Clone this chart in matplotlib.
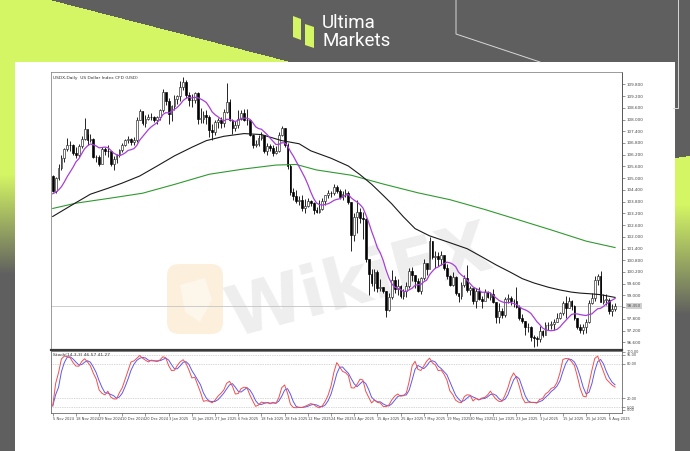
import numpy as np
import pandas as pd
import matplotlib
matplotlib.use("Agg")
import matplotlib.pyplot as plt
from matplotlib.patches import Rectangle, Polygon, FancyBboxPatch

# ---------------- data ----------------
title_text = "USDX,Daily  US Dollar Index CFD (USD)"
stoch_text = "Stoch(14,3,3) 46.57 41.27"
first_open = 105.10
pre_closes = [104.26, 104.32, 104.33, 104.07, 103.98, 104.28, 103.90, 103.43, 105.09]

closes = [
    # Nov 2024
    104.36, 104.99, 105.51, 106.02, 106.48, 106.72, 106.68, 106.27, 106.21, 106.65,
    107.02, 107.51, 106.94, 107.02, 106.06, 106.09, 105.74,
    # Dec
    106.47, 106.40, 106.37, 105.73, 105.98, 106.18, 106.43, 106.68, 106.95, 107.00,
    106.84, 106.96, 107.99, 108.43, 107.81, 108.04, 108.15, 108.11, 108.00, 108.13, 108.49,
    # Jan 2025
    109.39, 108.95, 108.26, 108.69, 109.05, 109.18, 109.65, 109.94, 109.26, 109.01,
    108.99, 109.35, 108.04, 108.05, 108.25, 108.12, 107.44, 107.35, 107.86, 107.96, 107.81, 108.37,
    # Feb
    108.92, 107.98, 107.57, 107.74, 108.05, 108.32, 107.95, 107.99, 107.22, 106.71,
    106.75, 107.07, 107.22, 106.40, 106.63, 106.55, 106.30, 106.39, 107.22, 107.56,
    # Mar
    106.72, 105.60, 104.28, 104.07, 103.84, 103.90, 103.47, 103.58, 103.82, 103.72,
    103.38, 103.25, 103.44, 103.84, 104.14, 104.26, 104.22, 104.56, 104.33, 104.04, 104.21,
    # Apr
    104.24, 103.80, 102.07, 103.02, 103.26, 102.97, 102.89, 100.88, 100.10, 99.64,
    100.21, 99.38, 99.43, 99.23, 98.28, 98.91, 99.80, 99.31, 99.47, 98.99, 99.21, 99.47,
    # May
    100.25, 100.03, 99.76, 99.24, 99.89, 100.64, 100.34, 101.79, 100.99, 101.04,
    100.85, 101.09, 100.39, 100.02, 99.56, 99.94, 99.11, 98.95, 99.52, 99.88, 99.26, 99.40,
    # Jun
    98.71, 99.24, 98.80, 98.74, 99.19, 98.94, 99.08, 98.64, 97.92, 98.18,
    98.02, 98.81, 98.89, 98.70, 98.72, 98.42, 97.86, 97.68, 97.39, 97.40, 96.88,
    # Jul
    96.83, 96.77, 97.18, 96.97, 97.49, 97.50, 97.54, 97.65, 97.85, 98.08,
    98.62, 98.37, 98.73, 98.46, 97.85, 97.39, 97.21, 97.38, 97.65, 98.63, 98.87, 99.79, 99.97,
    # Aug
    98.69, 98.78, 98.78, 98.18, 98.30, 98.45,
]

highs = [
    105.15, 105.05, 105.70, 106.18, 106.53, 107.07, 106.92, 106.75, 106.59, 106.75,
    107.15, 108.07, 107.25, 107.28, 107.05, 106.20, 106.20,
    106.60, 106.58, 106.72, 106.40, 106.14, 106.25, 106.50, 106.79, 107.02, 107.18,
    107.03, 107.11, 108.12, 108.54, 108.45, 108.23, 108.30, 108.32, 108.19, 108.18, 108.55,
    109.54, 109.36, 109.10, 108.75, 109.26, 109.25, 109.96, 110.17, 110.01, 109.41,
    109.28, 109.40, 109.42, 108.57, 108.43, 108.47, 108.22, 107.75, 107.95, 108.08, 108.12, 108.55,
    109.88, 109.05, 108.04, 107.92, 108.48, 108.50, 108.56, 108.52, 108.04, 107.27,
    106.93, 107.22, 107.38, 107.20, 106.80, 106.74, 106.72, 106.65, 107.34, 107.66,
    107.55, 106.78, 105.71, 104.50, 104.37, 104.10, 104.12, 103.92, 103.98, 103.88,
    103.79, 103.50, 103.86, 104.00, 104.15, 104.38, 104.35, 104.70, 104.65, 104.42, 104.32,
    104.43, 104.34, 103.76, 103.20, 103.87, 103.48, 103.26, 102.94, 100.81, 100.34,
    100.35, 100.30, 99.86, 99.42, 99.25, 99.15, 100.30, 99.99, 99.82, 99.53, 99.35, 99.68,
    100.38, 100.43, 100.07, 99.90, 99.95, 100.86, 100.63, 101.98, 101.77, 101.28,
    101.21, 101.25, 100.97, 100.61, 100.07, 100.20, 100.00, 99.13, 99.71, 100.03, 100.54, 99.48,
    99.35, 99.38, 99.41, 98.97, 99.35, 99.25, 99.20, 99.34, 98.66, 98.61,
    98.35, 98.90, 99.07, 98.97, 98.81, 99.42, 98.49, 98.03, 97.69, 97.60, 97.45,
    97.00, 96.92, 97.42, 97.21, 97.65, 97.62, 97.71, 97.80, 98.09, 98.17,
    98.70, 98.95, 98.92, 98.75, 98.51, 97.86, 97.55, 97.55, 97.81, 98.76, 99.13, 99.98, 100.10,
    100.26, 99.08, 99.07, 98.87, 98.55, 98.60,
]

lows = [
    104.30, 104.25, 104.90, 105.40, 105.85, 106.40, 106.40, 106.20, 106.04, 106.10,
    106.55, 106.95, 106.72, 106.85, 106.05, 105.85, 105.62,
    105.90, 106.16, 106.10, 105.61, 105.40, 105.80, 106.10, 106.34, 106.62, 106.80,
    106.72, 106.72, 106.86, 107.95, 107.70, 107.64, 107.98, 107.95, 107.87, 107.75, 107.98,
    108.39, 108.76, 107.76, 107.92, 108.47, 108.79, 108.95, 109.52, 109.12, 108.67,
    108.66, 108.82, 107.75, 107.80, 107.80, 107.75, 107.13, 106.96, 107.22, 107.58, 107.56, 107.64,
    108.31, 107.90, 107.25, 107.40, 107.55, 107.95, 107.92, 107.72, 107.15, 106.56,
    106.60, 106.64, 106.95, 106.30, 106.17, 106.37, 106.12, 106.22, 106.32, 107.14,
    106.58, 105.49, 104.15, 103.89, 103.72, 103.64, 103.31, 103.22, 103.50, 103.58,
    103.19, 103.20, 103.20, 103.36, 103.62, 104.00, 104.05, 104.13, 104.25, 103.94, 103.90,
    104.02, 103.69, 101.26, 101.80, 102.18, 102.72, 101.90, 100.73, 99.01, 99.46,
    99.25, 99.17, 99.21, 99.15, 97.92, 98.23, 98.80, 99.15, 99.02, 98.88, 98.81, 98.90,
    99.38, 99.76, 99.39, 99.18, 99.06, 99.80, 100.06, 100.87, 100.86, 100.39,
    100.52, 100.56, 100.29, 99.82, 99.47, 99.46, 99.00, 98.69, 98.83, 99.41, 99.19, 99.01,
    98.58, 98.35, 98.75, 98.35, 98.75, 98.86, 98.78, 98.61, 97.60, 97.61,
    97.83, 97.90, 98.63, 98.53, 98.40, 98.35, 97.75, 97.59, 96.99, 97.11, 96.69,
    96.37, 96.41, 96.60, 96.88, 96.98, 97.23, 97.28, 97.21, 97.65, 97.80,
    97.98, 97.85, 98.34, 98.24, 97.76, 97.29, 97.10, 97.04, 97.10, 97.60, 98.56, 98.70, 99.55,
    98.64, 98.56, 98.49, 98.05, 97.95, 98.20,
]

ma50_bars = [0, 7, 13, 19, 24, 30, 36, 42, 48, 53, 59, 66, 72, 79, 85, 89, 96, 102, 106, 110, 114,
             117, 121, 125, 130, 136, 143, 148, 153, 158, 162, 166, 171, 175, 179, 182, 186, 189, 194]
ma50_vals = [103.04, 103.66, 104.18, 104.48, 104.75, 105.11, 105.62, 106.14, 106.58, 106.92, 107.14,
             107.28, 107.23, 106.92, 106.76, 106.40, 106.02, 105.62, 105.18, 104.69, 104.12,
             103.68, 103.02, 102.42, 102.05, 101.75, 101.39, 100.98, 100.56, 100.18, 99.86,
             99.64, 99.42, 99.28, 99.17, 99.12, 99.08, 99.04, 98.90]
ma200_bars = [0, 8, 20, 31, 42, 54, 66, 77, 84, 91, 103, 114, 126, 137, 149, 160, 172, 184, 194]
ma200_vals = [103.45, 103.72, 103.98, 104.23, 104.68, 105.20, 105.47, 105.67, 105.70, 105.42, 105.15,
              104.70, 104.25, 103.90, 103.40, 102.90, 102.35, 101.78, 101.45]

price_ticks = [109.8, 109.2, 108.6, 108.0, 107.4, 106.8, 106.2, 105.6, 105.0, 104.4, 103.8, 103.2,
               102.6, 102.0, 101.4, 100.8, 100.2, 99.6, 99.0, 98.4, 97.8, 97.2, 96.6]
stoch_ticks = [100, 95, 80, 20, 5, 0]
stoch_levels = [95, 80, 20, 5]
date_labels = ["5 Nov 2024", "18 Nov 2024", "29 Nov 2024", "10 Dec 2024", "20 Dec 2024", "3 Jan 2025",
               "15 Jan 2025", "27 Jan 2025", "6 Feb 2025", "18 Feb 2025", "28 Feb 2025", "12 Mar 2025",
               "24 Mar 2025", "3 Apr 2025", "15 Apr 2025", "25 Apr 2025", "7 May 2025", "19 May 2025",
               "30 May 2025", "11 Jun 2025", "23 Jun 2025", "3 Jul 2025", "15 Jul 2025", "25 Jul 2025",
               "6 Aug 2025"]
label_step = 8

# ---------------- derived ----------------
c = pd.Series(closes, dtype=float)
h = pd.Series(highs, dtype=float)
l = pd.Series(lows, dtype=float)
o = pd.Series([first_open] + closes[:-1], dtype=float)
n = len(c)
x = np.arange(n)
ma10 = pd.Series(pre_closes + closes).rolling(10).mean().iloc[len(pre_closes):].to_numpy()

ll = l.rolling(14, min_periods=1).min()
hh = h.rolling(14, min_periods=1).max()
k = 100 * (c - ll).rolling(3, min_periods=1).sum() / (hh - ll).rolling(3, min_periods=1).sum()
d = k.rolling(3, min_periods=1).mean()

# ---------------- figure ----------------
W, H = 690, 451
fig = plt.figure(figsize=(W / 100, H / 100), dpi=100)

def ax_px(x0, y0, x1, y1):
    return fig.add_axes([x0 / W, 1 - y1 / H, (x1 - x0) / W, (y1 - y0) / H])

# background
bg = fig.add_axes([0, 0, 1, 1])
yy, xx = np.mgrid[0:H, 0:W] + 0.5
gray = np.array([0x5f, 0x5f, 0x5f]) / 255
lime = np.array([0xd4, 0xf5, 0x64]) / 255
wl = (xx < 50 + (240 / 62) * yy) * (1 - np.clip((yy - 175) / 100, 0, 1))
wr = ((xx > 640) & (yy > 158 - (xx - 676) * 0.15)) * (1 - np.clip((yy - 205) / 110, 0, 1))
w = np.maximum(wl, wr)[..., None]
img = gray * (1 - w) + lime * w
bg.imshow(img, extent=(0, W, H, 0), interpolation="bilinear")
bg.set_xlim(0, W)
bg.set_ylim(H, 0)
bg.axis("off")

bg.plot([456, 456, 540], [0, 34, 62], color="#d8d8d8", lw=0.7)
bg.plot([673, 678, 678], [108, 108, 0], color="#d8d8d8", lw=0.7)

# logo
bg.add_patch(Polygon([(293, 16), (301, 19), (301, 40), (293, 37)], closed=True, fc="#d4f564", ec="none"))
bg.add_patch(Polygon([(305, 24), (314, 27), (314, 48), (305, 45)], closed=True, fc="#d4f564", ec="none"))
bg.text(322, 23.5, "Ultima", color="white", fontsize=13.5, family="Roboto", va="center", ha="left")
bg.text(322, 40.5, "Markets", color="white", fontsize=13.5, family="Roboto", va="center", ha="left")

# card
bg.add_patch(Rectangle((15, 62), 660, 389, fc="white", ec="none"))

# watermark
bg.add_patch(FancyBboxPatch((167, 264), 56, 70, boxstyle="round,pad=0,rounding_size=12",
                            fc="#fcf0dc", ec="none"))
bg.add_patch(Polygon([(180, 285), (205, 278), (212, 300), (200, 322), (185, 312)], closed=True,
                     fc="#fdf6ea", ec="none"))
bg.text(360, 283, "WikiFX", fontsize=50, color="#eeeeee", rotation=15, ha="center", va="center",
        weight="bold", family="DejaVu Sans")

# ---------------- price panel ----------------
ax = ax_px(51, 72, 622, 350)
ax.set_facecolor("none")
ax.set_xlim(-0.6, 196.4)
ax.set_ylim(96.21, 110.43)

up = c >= o
body_lo = np.minimum(o, c)
body_h = np.maximum(np.abs(c - o), 0.02)
ax.vlines(x, l, h, color="black", lw=0.6, zorder=2)
ax.bar(x[up], body_h[up], bottom=body_lo[up], width=0.62, color="white", edgecolor="#222222",
       linewidth=0.45, zorder=3)
ax.bar(x[~up], body_h[~up], bottom=body_lo[~up], width=0.62, color="black", edgecolor="black",
       linewidth=0.45, zorder=3)

ax.plot(ma200_bars, ma200_vals, color="#2f9a2f", lw=0.8, zorder=4)
ax.plot(ma50_bars, ma50_vals, color="#1a1a1a", lw=0.8, zorder=4)
ax.plot(x, ma10, color="#a83fd8", lw=0.9, zorder=4)

last = closes[-1]
ax.axhline(last, color="#c4c4c4", lw=0.6, zorder=1)

ax.yaxis.tick_right()
ax.set_yticks(price_ticks)
ax.set_yticklabels([f"{v:.3f}" for v in price_ticks])
ax.tick_params(axis="y", labelsize=3.0, length=2, width=0.4, colors="#444444", pad=1.5)
ax.set_xticks([])
for s in ["left", "top"]:
    ax.spines[s].set_color("#8a8a8a")
    ax.spines[s].set_linewidth(0.6)
ax.spines["right"].set_color("#555555")
ax.spines["right"].set_linewidth(0.7)
ax.spines["bottom"].set_color("#3a3a3a")
ax.spines["bottom"].set_linewidth(1.6)
ax.text(0.004, 0.985, title_text, transform=ax.transAxes, fontsize=3.2, color="#333333",
        va="top", ha="left")
ax.text(1.008, last, f"{last:.3f}", transform=ax.get_yaxis_transform(), fontsize=3.0, color="#555555",
        va="center", ha="left", zorder=6, clip_on=False,
        bbox=dict(boxstyle="square,pad=0.25", fc="#d0d0d0", ec="none"))

# ---------------- stochastic panel ----------------
ax2 = ax_px(51, 351, 622, 413)
ax2.set_facecolor("none")
ax2.set_xlim(-0.6, 196.4)
ax2.set_ylim(-5.2, 101.7)
for lv in stoch_levels:
    ax2.axhline(lv, color="#b0b0b0", lw=0.5, ls=(0, (1, 1.5)))
ax2.plot(x, d, color="#5a5af0", lw=0.7)
ax2.plot(x, k, color="#f05050", lw=0.7)
ax2.yaxis.tick_right()
ax2.set_yticks(stoch_ticks)
ax2.set_yticklabels([f"{v:.2f}" for v in stoch_ticks])
ax2.tick_params(axis="y", labelsize=2.5, length=2, width=0.4, colors="#444444", pad=1.5)
tick_pos = [i * label_step for i in range(len(date_labels))]
ax2.set_xticks(tick_pos)
ax2.set_xticklabels(date_labels, ha="left")
ax2.tick_params(axis="x", labelsize=2.6, length=2, width=0.4, colors="#444444", pad=1.2)
for s in ["left", "top", "right", "bottom"]:
    ax2.spines[s].set_color("#6a6a6a")
    ax2.spines[s].set_linewidth(0.6)
ax2.text(0.004, 0.97, stoch_text, transform=ax2.transAxes, fontsize=3.2, color="#333333",
         va="top", ha="left")

fig.savefig("out.png", dpi=100)
